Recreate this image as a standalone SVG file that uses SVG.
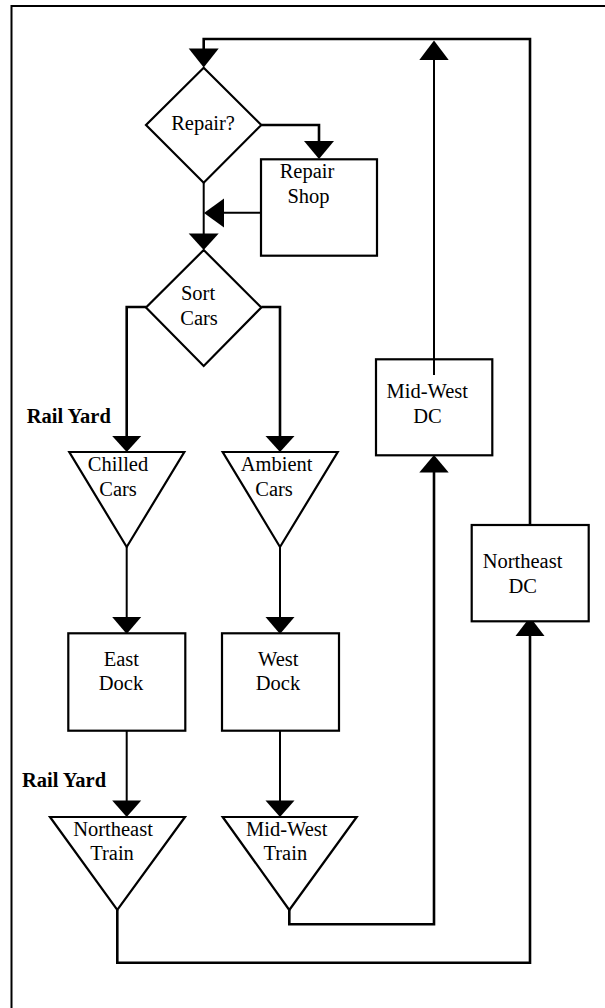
<svg xmlns="http://www.w3.org/2000/svg" width="605" height="1008" viewBox="0 0 605 1008">
<style>
  .shape{fill:#fff;stroke:#000;stroke-width:2.2}
  .ln{fill:none;stroke:#000;stroke-width:2}
  .thk{fill:none;stroke:#000;stroke-width:2.6}
  .ah{fill:#000;stroke:none}
  text{font-family:"Liberation Serif","Times New Roman",serif;font-size:20.5px;fill:#000;text-anchor:middle}
  .lbl{font-weight:bold;text-anchor:start}
</style>
<rect x="0" y="0" width="605" height="1008" fill="#fff"/>
<path d="M11.5,1008 V6 H605" fill="none" stroke="#000" stroke-width="2"/>

<g id="connectors">
  <path class="thk" d="M530,525 V39 H203.7 V50"/>
  <path class="ln" d="M434,375 V58"/>
  <path class="thk" d="M261.3,125 H319 V142"/>
  <path class="ln" d="M203.7,182.7 V235"/>
  <path class="ln" d="M261,212.7 H222"/>
  <path class="thk" d="M146,307 H126.7 V438"/>
  <path class="thk" d="M261.3,307 H280 V438"/>
  <path class="ln" d="M126.7,547 V619"/>
  <path class="ln" d="M280,547 V619"/>
  <path class="ln" d="M126.7,731 V802"/>
  <path class="ln" d="M280,731 V802"/>
  <path class="thk" d="M117.3,910 V962.7 H530 V634"/>
  <path class="thk" d="M289.3,910 V924.3 H434 V471"/>
  <polygon class="ah" points="188.7,48.5 218.7,48.5 203.7,67.5"/>
  <polygon class="ah" points="304,141 334,141 319,159"/>
  <polygon class="ah" points="224,198.5 224,227.5 204,213"/>
  <polygon class="ah" points="188.7,233.5 218.7,233.5 203.7,250"/>
  <polygon class="ah" points="112.2,436 141.2,436 126.7,452"/>
  <polygon class="ah" points="265.5,436 294.5,436 280,452"/>
  <polygon class="ah" points="112.2,617 141.2,617 126.7,634"/>
  <polygon class="ah" points="265.5,617 294.5,617 280,634"/>
  <polygon class="ah" points="112.2,800.5 141.2,800.5 126.7,817"/>
  <polygon class="ah" points="265.5,800.5 294.5,800.5 280,817"/>
  <polygon class="ah" points="419.3,60 448.7,60 434,40.5"/>
  <polygon class="ah" points="419.3,472.5 448.7,472.5 434,455"/>
  <polygon class="ah" points="515.5,636 544.5,636 530,617"/>
</g>

<g id="repair">
  <polygon class="shape" points="203.7,67.7 261.3,125 203.7,182.7 146,125"/>
  <text x="203" y="130">Repair?</text>
</g>
<g id="repair-shop">
  <rect class="shape" x="261" y="159.3" width="116" height="96.4"/>
  <text x="307" y="178.3">Repair</text>
  <text x="308.5" y="202.7">Shop</text>
</g>
<g id="sort-cars">
  <polygon class="shape" points="203.7,250 261.3,307.5 203.7,366 146,307.5"/>
  <text x="198" y="300">Sort</text>
  <text x="199" y="325">Cars</text>
</g>
<g id="label-rail-yard-1">
  <text class="lbl" x="26.7" y="422.7">Rail Yard</text>
</g>
<g id="chilled-cars">
  <polygon class="shape" points="69.3,452 184.3,452 126.7,547"/>
  <text x="118" y="470.7">Chilled</text>
  <text x="118" y="496">Cars</text>
</g>
<g id="ambient-cars">
  <polygon class="shape" points="222.7,452 337.7,452 280,547"/>
  <text x="276.7" y="470.7">Ambient</text>
  <text x="274" y="496">Cars</text>
</g>
<g id="east-dock">
  <rect class="shape" x="68.3" y="633.3" width="117" height="97.4"/>
  <text x="121.3" y="666">East</text>
  <text x="121" y="690">Dock</text>
</g>
<g id="west-dock">
  <rect class="shape" x="222" y="633.3" width="117" height="97.4"/>
  <text x="278.3" y="666">West</text>
  <text x="278" y="690">Dock</text>
</g>
<g id="label-rail-yard-2">
  <text class="lbl" x="22" y="786.7">Rail Yard</text>
</g>
<g id="northeast-train">
  <polygon class="shape" points="50,817 185,817 117.3,910"/>
  <text x="113" y="836">Northeast</text>
  <text x="112" y="860">Train</text>
</g>
<g id="midwest-train">
  <polygon class="shape" points="222.7,817 356.7,817 289.3,910"/>
  <text x="286.7" y="836">Mid-West</text>
  <text x="285.3" y="860">Train</text>
</g>
<g id="midwest-dc">
  <rect class="shape" x="376" y="359.3" width="116.3" height="96" fill-opacity="0"/>
  <text x="427.2" y="397.7">Mid-West</text>
  <text x="427.5" y="422.7">DC</text>
</g>
<g id="northeast-dc">
  <rect class="shape" x="471.7" y="525" width="117" height="96.3"/>
  <text x="522.5" y="568.3">Northeast</text>
  <text x="522.8" y="592.7">DC</text>
</g>
</svg>
